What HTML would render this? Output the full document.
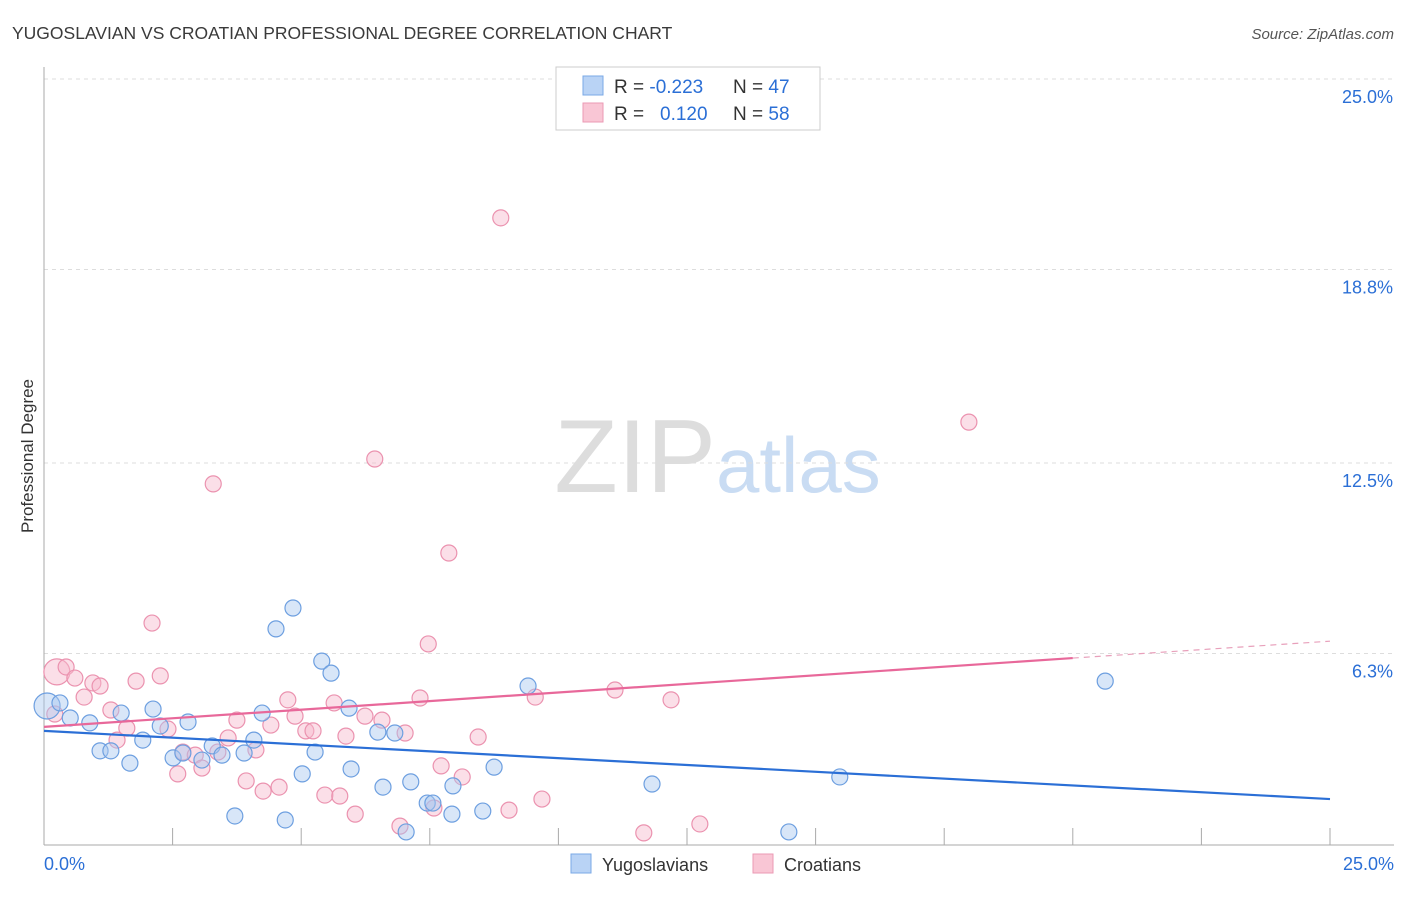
<!DOCTYPE html>
<html><head><meta charset="utf-8"><style>
body{margin:0;background:#fff;font-family:"Liberation Sans",sans-serif}
svg text{font-family:"Liberation Sans",sans-serif}
</style></head><body>
<svg id="c" width="1406" height="892">
<text x="12" y="39" font-size="17.5" fill="#3a3a3a">YUGOSLAVIAN VS CROATIAN PROFESSIONAL DEGREE CORRELATION CHART</text>
<text x="1394" y="39" font-size="15" fill="#555" font-style="italic" text-anchor="end">Source: ZipAtlas.com</text>
<text x="716" y="492" font-size="104" fill="#ddd" text-anchor="end" font-family="Liberation Serif">ZIP</text>
<text x="716" y="492" font-size="78" fill="#c9dcf3">atlas</text>
<text transform="translate(33,456) rotate(-90)" font-size="17" fill="#333" text-anchor="middle">Professional Degree</text>
<g id="grid"></g><g id="pts"></g><g id="lines"></g>
<g>
<rect x="556" y="67" width="264" height="63" fill="#fff" stroke="#ccc"/>
<rect x="583" y="76" width="20" height="19" fill="#b9d3f5" stroke="#7aa8e6"/>
<rect x="583" y="103" width="20" height="19" fill="#f9c6d5" stroke="#eb9ab4"/>
<text x="614" y="93" font-size="19" fill="#333">R = <tspan fill="#2b6fd6">-0.223</tspan></text>
<text x="733" y="93" font-size="19" fill="#333">N = <tspan fill="#2b6fd6">47</tspan></text>
<text x="614" y="120" font-size="19" fill="#333">R = <tspan fill="#2b6fd6" x="660">0.120</tspan></text>
<text x="733" y="120" font-size="19" fill="#333">N = <tspan fill="#2b6fd6">58</tspan></text>
</g>
<g>
<rect x="571" y="854" width="20" height="19" fill="#b9d3f5" stroke="#7aa8e6"/>
<text x="602" y="871" font-size="18" fill="#333">Yugoslavians</text>
<rect x="753" y="854" width="20" height="19" fill="#f9c6d5" stroke="#eb9ab4"/>
<text x="784" y="871" font-size="18" fill="#333">Croatians</text>
</g>
</svg>
<script>
const yTicks=[6.3,12.5,18.8,25.0];
const xTickLabels=["0.0%","25.0%"];
const blueX=[0.06,0.31,0.51,0.89,1.09,1.30,1.50,1.67,1.92,2.12,2.26,2.51,2.70,2.80,3.07,3.27,3.46,3.71,3.89,4.08,4.24,4.51,4.69,4.84,5.02,5.27,5.40,5.58,5.93,5.97,6.49,6.59,6.82,7.04,7.13,7.45,7.56,7.95,7.93,8.53,8.75,9.41,11.82,14.48,15.47,20.63];
const blueY=[4.59,4.69,4.20,4.04,3.13,3.13,4.36,2.73,3.48,4.49,3.94,2.90,3.06,4.07,2.83,3.29,2.99,1.01,3.06,3.48,4.36,7.10,0.88,7.78,2.38,3.09,6.05,5.66,4.52,2.54,3.74,1.95,3.71,0.49,2.12,1.43,1.43,1.99,1.07,1.17,2.60,5.24,2.05,0.49,2.28,5.40];
const pinkX=[0.25,0.43,0.21,0.60,0.78,0.95,1.09,1.30,1.42,1.61,1.79,2.10,2.26,2.41,2.60,2.70,2.94,3.07,3.29,3.38,3.58,3.75,3.93,4.12,4.26,4.41,4.57,4.74,4.88,5.09,5.23,5.46,5.64,5.75,5.87,6.05,6.24,6.43,6.57,6.92,7.02,7.31,7.47,7.58,7.72,7.87,8.13,8.44,8.88,9.04,9.55,9.68,11.10,11.66,12.19,12.75,17.98];
const pinkY=[5.70,5.86,4.33,5.50,4.88,5.34,5.24,4.46,3.48,3.87,5.40,7.29,5.57,3.84,2.38,3.09,2.99,2.57,11.82,3.09,3.55,4.13,2.15,3.16,1.82,3.97,1.95,4.79,4.26,3.78,3.78,1.69,4.69,1.66,3.61,1.07,4.26,12.63,4.13,0.68,3.71,4.85,6.61,1.27,2.64,9.57,2.28,3.58,20.48,1.20,4.88,1.56,5.11,0.46,4.79,0.75,13.83];
const blueTrend=[3.78,1.56];
const pinkTrend=[3.91,6.15,6.70];
const X=v=>44+v*51.44, Y=v=>847-v*30.72;
const NS="http://www.w3.org/2000/svg";
function mk(t,a,p){const e=document.createElementNS(NS,t);for(const k in a)e.setAttribute(k,a[k]);p.appendChild(e);return e;}
const g=document.getElementById('grid');
yTicks.forEach((t,i)=>{
 const l=mk('line',{x1:44,x2:1394,y1:Y(t),y2:Y(t),stroke:'#ddd','stroke-dasharray':'4,4'},g);
 
 
 const tx=mk('text',{x:1393,y:Y(t)+24,'font-size':18,fill:'#2b6fd6','text-anchor':'end'},g);
 tx.textContent=t.toFixed(1)+'%';
 
 
});
const ax=mk('line',{x1:44,x2:44,y1:67,y2:845,stroke:'#aaa'},g);


const bx=mk('line',{x1:44,x2:1394,y1:845,y2:845,stroke:'#aaa'},g);


for(let i=0;i<=10;i++){const t=mk('line',{x1:X(i*2.5),x2:X(i*2.5),y1:828,y2:845,stroke:'#aaa'},g);
 
 }
[[0,'start',44],[25,'end',1394]].forEach((d,i)=>{const t=mk('text',{x:d[2],y:870,'font-size':18,fill:'#2b6fd6','text-anchor':d[1]},g);t.textContent=xTickLabels[i];
 
 });
const p=document.getElementById('pts');
function dots(xs,ys,fill,stroke,name){xs.forEach((x,i)=>{const c=mk('circle',{cx:X(x),cy:Y(ys[i]),r:i==0?13:8,fill:fill,'fill-opacity':0.45,stroke:stroke,'stroke-width':1.2},p);
 
 });}
dots(pinkX,pinkY,'#f7b8cb','#eb92af','croatian-point');
dots(blueX,blueY,'#a9c8f0','#6d9fe0','yugoslavian-point');
const L=document.getElementById('lines');
const b=mk('line',{x1:X(0),y1:Y(blueTrend[0]),x2:X(25),y2:Y(blueTrend[1]),stroke:'#2b6fd6','stroke-width':2.2},L);


const pk=mk('line',{x1:X(0),y1:Y(pinkTrend[0]),x2:X(20),y2:Y(pinkTrend[1]),stroke:'#e8689a','stroke-width':2.2},L);


const pd=mk('line',{x1:X(20),y1:Y(pinkTrend[1]),x2:X(25),y2:Y(pinkTrend[2]),stroke:'#e8a0bb','stroke-width':1.2,'stroke-dasharray':'6,5'},L);


</script>
</body></html>
